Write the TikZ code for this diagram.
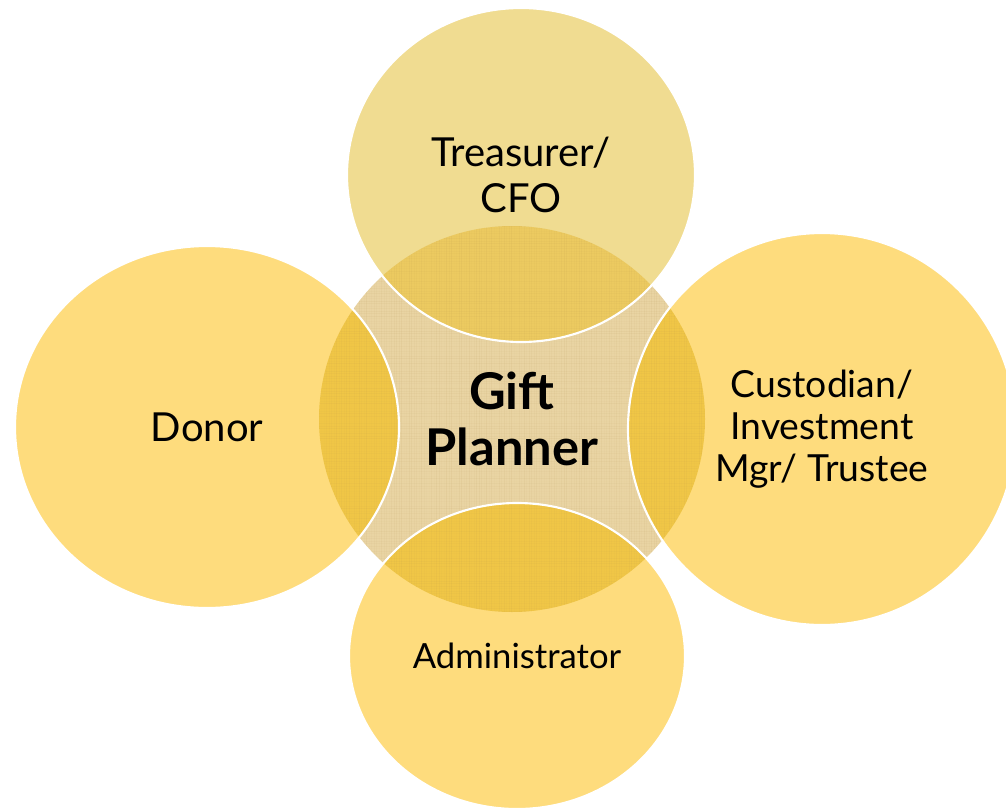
\documentclass[tikz,border=0pt]{standalone}
\usepackage{fontspec}
\setmainfont{Lato}

\definecolor{plannerTan}{RGB}{233,212,163}
\definecolor{roleYellow}{RGB}{254,220,125}
\definecolor{cfoYellow}{RGB}{240,220,145}
\definecolor{overlapYellow}{RGB}{240,198,70}
\definecolor{overlapCfo}{RGB}{236,202,96}
\definecolor{weave}{RGB}{170,135,70}

\tikzset{every picture/.style={line width=0.75pt}}
\tikzset{
  rim/.style={draw=white, line width=1.6pt},
  rolelabel/.style={inner sep=0.75pt, align=center, text=black},
}

\begin{document}
\begin{tikzpicture}[x=0.75pt,y=0.75pt,yscale=-1,xscale=1]
\useasboundingbox (0,0) rectangle (1006,810);

\coordinate (plannerC) at (512,419);
\coordinate (cfoC) at (521,175);
\coordinate (donorC) at (207,427);
\coordinate (custodianC) at (822,429);
\coordinate (adminC) at (517,656);

%Shape: Circle [centre]
\fill [plannerTan] (plannerC) circle [radius=193];
%Shape: Ellipse [top]
\fill [cfoYellow] (cfoC) ellipse [x radius=174, y radius=167];
%Shape: Ellipse [left]
\fill [roleYellow] (donorC) ellipse [x radius=192, y radius=181];
%Shape: Ellipse [right]
\fill [roleYellow] (custodianC) ellipse [x radius=194, y radius=196];
%Shape: Ellipse [bottom]
\fill [roleYellow] (adminC) ellipse [x radius=168, y radius=153];

% overlaps with the centre, and its weave
\begin{scope}
\clip (plannerC) circle [radius=193];
\fill [overlapCfo] (cfoC) ellipse [x radius=174, y radius=167];
\fill [overlapYellow] (donorC) ellipse [x radius=192, y radius=181];
\fill [overlapYellow] (custodianC) ellipse [x radius=194, y radius=196];
\fill [overlapYellow] (adminC) ellipse [x radius=168, y radius=153];
\pgfmathsetseed{7}
\foreach \y [evaluate=\y as \op using {0.01+0.06*rnd}] in {226,228.5,...,614}
  \draw [weave, line width=0.5pt, opacity=\op] (318,\y) -- (706,\y);
\foreach \x [evaluate=\x as \op using {0.01+0.07*rnd}] in {319,321.5,...,706}
  \draw [weave, line width=0.5pt, opacity=\op] (\x,225) -- (\x,613);
\end{scope}

%Rims
\draw [rim] (cfoC) ellipse [x radius=174, y radius=167];
\draw [rim] (donorC) ellipse [x radius=192, y radius=181];
\draw [rim] (custodianC) ellipse [x radius=194, y radius=196];
\draw [rim] (adminC) ellipse [x radius=168, y radius=153];

% Text Node
\node [rolelabel, font=\fontsize{38}{42}\selectfont\bfseries] (planner) at (plannerC) {Gift\\Planner};
% Text Node
\node [rolelabel, font=\fontsize{30}{34}\selectfont] (cfo) at (cfoC) {Treasurer/\\CFO};
% Text Node
\node [rolelabel, font=\fontsize{30}{34}\selectfont] (donor) at (donorC) {Donor};
% Text Node
\node [rolelabel, font=\fontsize{28}{31.5}\selectfont] (custodian) at (custodianC) {Custodian/\\Investment\\Mgr/ Trustee};
% Text Node
\node [rolelabel, font=\fontsize{26}{30}\selectfont] (admin) at (adminC) {Administrator};

\end{tikzpicture}
\end{document}
